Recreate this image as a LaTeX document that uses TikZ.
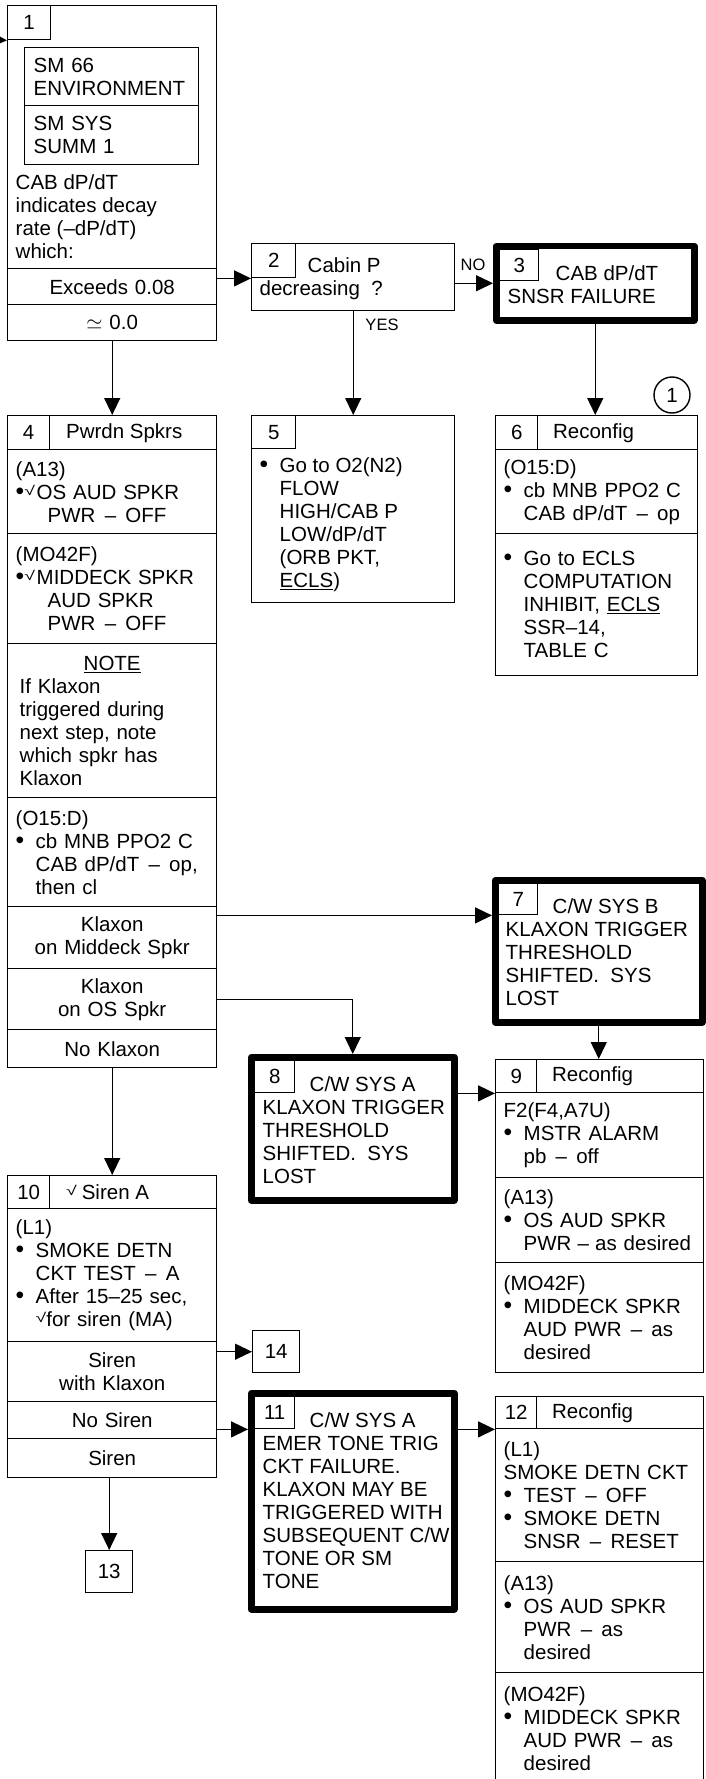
\documentclass[tikz,border=0pt]{standalone}
\usepackage{fontspec}
\usepackage{graphicx}
\setmainfont{Liberation Sans}
\usetikzlibrary{arrows.meta,positioning}
\newcommand\bul{\makebox[20pt][l]{\scalebox{1.2}{\textbullet}}}
\newcommand\ind{\hspace*{20pt}}
\newcommand\chkmark{\raisebox{4pt}{\scalebox{1.5}[1]{\fontsize{13}{13}\selectfont √}}}
\newcommand\chk{\makebox[21pt][l]{\scalebox{1.2}{\textbullet}\chkmark}}
\newcommand\dsh{\hspace{.45em}–\hspace{.45em}}

\begin{document}
\begin{tikzpicture}[x=1pt,y=-1pt,line width=1.4pt,
  font=\fontsize{20.5}{23}\selectfont,
  sec/.style={draw,anchor=north west,inner xsep=8pt,inner ysep=0pt,align=left},
  lsec/.style={sec,text width=193pt},
  rsec/.style={sec,text width=192pt},
  csec/.style={sec,text width=193pt,align=center},
  tag/.style={draw,anchor=north west,inner sep=0pt,minimum width=42pt,minimum height=34pt},
  ttl/.style={inner sep=0pt},
  fat/.style={draw,anchor=north west,line width=6.5pt,line join=round,inner sep=0pt},
  txt/.style={align=left,inner sep=0pt,anchor=west},
  lbl/.style={font=\fontsize{16.5}{18}\selectfont,inner sep=0pt},
  arr/.style={-{Triangle[length=17pt,width=16pt]}}]
                    \useasboundingbox (0,0) rectangle (706,1779);
                    \node[sec,minimum width=209pt,minimum height=263pt] (b1) at (7,5) {};
                    \node[tag,minimum width=43pt] (tag1) at (7,5) {1};
                    \node[sec,text width=156pt,inner xsep=9pt,minimum height=58pt] (sm66) at (24,47) {SM 66\\ENVIRONMENT};
                    \node[sec,text width=156pt,inner xsep=9pt,minimum height=59pt] (smsys) at (24,105) {SM SYS\\SUMM 1};
                    \node[txt] (b1t) at (15,217) {CAB dP/dT\\indicates decay\\rate (–dP/dT)\\which:};
                    \node[csec,minimum height=36pt] (b1ex) at (7,268) {Exceeds 0.08};
                    \node[csec,minimum height=36pt] (b1ap) at (7,304) {$\simeq$ 0.0};
                    \node[sec,minimum width=203pt,minimum height=67pt] (b2) at (251,243) {};
                    \node[tag,minimum width=44pt] (tag2) at (251,243) {2};
                    \node[txt] (b2t) at (259,279) {\hspace*{48pt}Cabin P\\decreasing\ \ ?};
                    \node[fat,minimum width=198pt,minimum height=74pt] (b3) at (493,243) {};
                    \node[tag,minimum width=39pt,minimum height=31pt] (tag3) at (499,249) {3};
                    \node[txt] (b3t) at (507,285) {\hspace*{48pt}CAB dP/dT\\SNSR FAILURE};
                    \node[lbl] (no) at (473,265) {NO};
                    \node[lbl] (yes) at (382,325) {YES};
                    \node[draw,circle,minimum size=36pt,inner sep=0pt] (c1) at (672,395) {1};
                    \node[sec,minimum width=209pt,minimum height=34pt] (b4h) at (7,415) {};
                    \node[tag] (tag4) at (7,415) {4};
                    \node[ttl,right=15pt of tag4] (t4) {Pwrdn Spkrs};
                    \node[lsec,minimum height=84pt] (b4a) at (7,449) {(A13)\\\chk OS AUD SPKR\\\hspace*{32pt}PWR\dsh OFF};
                    \node[lsec,minimum height=110pt] (b4b) at (7,533) {(MO42F)\\\chk MIDDECK SPKR\\\hspace*{32pt}AUD SPKR\\\hspace*{32pt}PWR\dsh OFF};
                    \node[lsec,minimum height=154pt] (b4c) at (7,643) {\hspace*{68pt}\underline{NOTE}\\\hspace*{4pt}If Klaxon\\\hspace*{4pt}triggered during\\\hspace*{4pt}next step, note\\\hspace*{4pt}which spkr has\\\hspace*{4pt}Klaxon};
                    \node[lsec,minimum height=109pt] (b4d) at (7,797) {(O15:D)\\\bul cb MNB PPO2 C\\\ind CAB dP/dT\dsh op,\\\ind then cl};
                    \node[csec,minimum height=62pt] (b4e) at (7,906) {Klaxon\\on Middeck Spkr};
                    \node[csec,minimum height=61pt] (b4f) at (7,968) {Klaxon\\on OS Spkr};
                    \node[csec,minimum height=38pt] (b4g) at (7,1029) {No Klaxon};
                    \node[sec,minimum width=203pt,minimum height=187pt] (b5) at (251,415) {};
                    \node[tag,minimum width=44pt,minimum height=33pt] (tag5) at (251,415) {5};
                    \node[txt] (b5t) at (259,525) {\bul Go to O2(N2)\\\ind FLOW\\\ind HIGH/CAB P\\\ind LOW/dP/dT\\\ind (ORB PKT,\\\ind \underline{ECLS})};
                    \node[sec,minimum width=202pt,minimum height=34pt] (b6h) at (495,415) {};
                    \node[tag] (tag6) at (495,415) {6};
                    \node[ttl,right=14pt of tag6] (t6) {Reconfig};
                    \node[sec,text width=186pt,minimum height=84pt] (b6a) at (495,449) {(O15:D)\\\bul cb MNB PPO2 C\\\ind CAB dP/dT\dsh op};
                    \node[sec,text width=186pt,minimum height=142pt] (b6b) at (495,533) {\bul Go to ECLS\\\ind COMPUTATION\\\ind INHIBIT, \underline{ECLS}\\\ind SSR–14,\\\ind TABLE C};
                    \node[fat,minimum width=207pt,minimum height=142pt] (b7) at (492,877) {};
                    \node[tag,minimum width=39pt,minimum height=31pt] (tag7) at (498,883) {7};
                    \node[txt] (b7t) at (505,952) {\hspace*{47pt}C/W SYS B\\KLAXON TRIGGER\\THRESHOLD\\SHIFTED.\ \ SYS\\LOST};
                    \node[fat,minimum width=203pt,minimum height=143pt] (b8) at (248,1054) {};
                    \node[tag,minimum width=40pt,minimum height=32pt] (tag8) at (254,1060) {8};
                    \node[txt] (b8t) at (262,1130) {\hspace*{47pt}C/W SYS A\\KLAXON TRIGGER\\THRESHOLD\\SHIFTED.\ \ SYS\\LOST};
                    \node[sec,minimum width=208pt,minimum height=33pt] (b9h) at (495,1059) {};
                    \node[tag,minimum width=41pt,minimum height=33pt] (tag9) at (495,1059) {9};
                    \node[ttl,right=14pt of tag9] (t9) {Reconfig};
                    \node[rsec,minimum height=85pt] (b9a) at (495,1092) {F2(F4,A7U)\\\bul MSTR ALARM\\\ind pb\dsh off};
                    \node[rsec,minimum height=85pt] (b9b) at (495,1177) {(A13)\\\bul OS AUD SPKR\\\ind\mbox{PWR\hspace{.3em}–\hspace{.3em}as desired}};
                    \node[rsec,minimum height=110pt] (b9c) at (495,1262) {(MO42F)\\\bul MIDDECK SPKR\\\ind AUD PWR\dsh as\\\ind desired};
                    \node[sec,minimum width=209pt,minimum height=33pt] (b10h) at (7,1175) {};
                    \node[tag,minimum height=33pt] (tag10) at (7,1175) {10};
                    \node[ttl,right=15pt of tag10] (t10) {\chkmark\hspace{5pt}Siren A};
                    \node[lsec,minimum height=133pt] (b10a) at (7,1208) {(L1)\\\bul SMOKE DETN\\\ind CKT TEST\dsh A\\\bul After 15–25 sec,\\\ind\chkmark for siren (MA)};
                    \node[csec,minimum height=60pt] (b10b) at (7,1341) {Siren\\with Klaxon};
                    \node[csec,minimum height=37pt] (b10c) at (7,1401) {No Siren};
                    \node[csec,minimum height=39pt] (b10d) at (7,1438) {Siren};
                    \node[draw,anchor=north west,minimum width=47pt,minimum height=42pt,inner sep=0pt] (n14) at (252,1330) {14};
                    \node[draw,anchor=north west,minimum width=47pt,minimum height=42pt,inner sep=0pt] (n13) at (85,1550) {13};
                    \node[fat,minimum width=203pt,minimum height=216pt] (b11) at (248,1390) {};
                    \node[tag,minimum width=40pt,minimum height=32pt] (tag11) at (254,1396) {11};
                    \node[txt] (b11t) at (262,1501) {\hspace*{47pt}C/W SYS A\\EMER TONE TRIG\\CKT FAILURE.\\KLAXON MAY BE\\TRIGGERED WITH\\SUBSEQUENT C/W\\TONE OR SM\\TONE};
                    \node[sec,minimum width=208pt,minimum height=32pt] (b12h) at (495,1396) {};
                    \node[tag,minimum width=41pt,minimum height=32pt] (tag12) at (495,1396) {12};
                    \node[ttl,right=14pt of tag12] (t12) {Reconfig};
                    \node[rsec,minimum height=133pt] (b12a) at (495,1428) {(L1)\\SMOKE DETN CKT\\\bul TEST\dsh OFF\\\bul SMOKE DETN\\\ind SNSR\dsh RESET};
                    \node[rsec,minimum height=111pt] (b12b) at (495,1561) {(A13)\\\bul OS AUD SPKR\\\ind PWR\dsh as\\\ind desired};
                    \node[rsec,minimum height=112pt] (b12c) at (495,1672) {(MO42F)\\\bul MIDDECK SPKR\\\ind AUD PWR\dsh as\\\ind desired};
                    \coordinate (in1) at (-20,39);
                    \draw[arr] (in1) -- (tag1.south west);
                    \draw[arr] (b1ex.east |- tag2.south) -- (tag2.south west);
                    \draw[arr] (b2.east |- b3.west) -- (b3.west);
                    \draw[arr] (b2.south) -- (b5.north);
                    \draw[arr] (b3.south) -- (b3.south |- b6h.north);
                    \draw[arr] (b1ap.south) -- (b4h.north);
                    \draw[arr] (b4e.east |- tag7.south) -- (b7.west |- tag7.south);
                    \draw[arr] (b4f.east) -| (b8.north);
                    \draw[arr] (b4g.south) -- (b10h.north);
                    \draw[arr] (b7.south) -- (b7.south |- b9h.north);
                    \draw[arr] (b8.east |- b9h.south) -- (b9h.south west);
                    \draw[arr] (b10b.east |- n14.west) -- (n14.west);
                    \draw[arr] (b10c.east |- tag11.south) -- (b11.west |- tag11.south);
                    \draw[arr] (b11.east |- b12h.south) -- (b12h.south west);
                    \draw[arr] (n13.north |- b10d.south) -- (n13.north);
                \end{tikzpicture}
\end{document}
